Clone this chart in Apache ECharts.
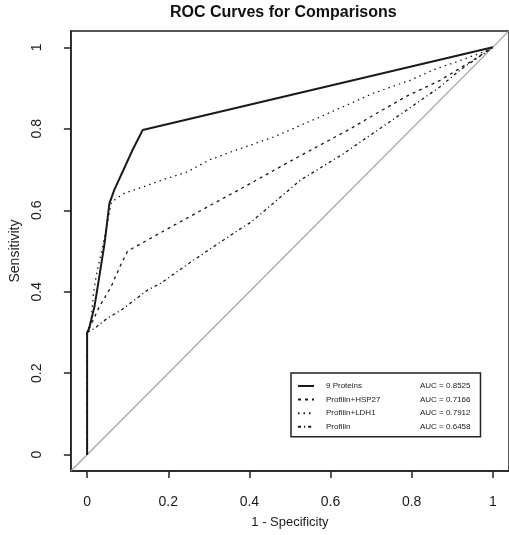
<!DOCTYPE html>
<html>
<head>
<meta charset="utf-8">
<script src="https://cdn.jsdelivr.net/npm/echarts@6/dist/echarts.min.js"></script>
<style>
  html, body { margin: 0; padding: 0; background: #fff; }
  #chart { width: 509px; height: 535px; }
</style>
</head>
<body>
<div id="chart"></div>
<script>
// ROC curves: [1 - specificity, sensitivity] pairs
const nineProteins = [
  [0, 0], [0, 0.30], [0.005, 0.31], [0.018, 0.363], [0.03, 0.437], [0.043, 0.519],
  [0.055, 0.617], [0.067, 0.65], [0.112, 0.748], [0.137, 0.797], [1, 1]
];
const profilinHsp27 = [
  [0, 0], [0, 0.30], [0.01, 0.32], [0.03, 0.363], [0.059, 0.412], [0.08, 0.46],
  [0.1, 0.50], [0.149, 0.527], [0.223, 0.568], [0.30, 0.61], [0.403, 0.666],
  [0.50, 0.72], [0.649, 0.80], [0.705, 0.833], [0.788, 0.88], [0.87, 0.919],
  [0.951, 0.968], [1, 1]
];
const profilinLdh1 = [
  [0, 0], [0, 0.30], [0.01, 0.33], [0.015, 0.39], [0.022, 0.437], [0.04, 0.52],
  [0.06, 0.62], [0.092, 0.642], [0.14, 0.658], [0.19, 0.676], [0.247, 0.694],
  [0.30, 0.723], [0.354, 0.743], [0.46, 0.78], [0.567, 0.826], [0.649, 0.862],
  [0.705, 0.887], [0.796, 0.919], [0.862, 0.948], [0.91, 0.964], [0.968, 0.985], [1, 1]
];
const profilin = [
  [0, 0], [0, 0.30], [0.018, 0.31], [0.05, 0.335], [0.084, 0.355], [0.149, 0.404],
  [0.182, 0.421], [0.223, 0.45], [0.263, 0.478], [0.386, 0.56], [0.403, 0.57],
  [0.526, 0.674], [0.632, 0.739], [0.705, 0.789], [0.788, 0.846], [0.87, 0.903],
  [0.919, 0.944], [1, 1]
];
// chance line y = x across the plotting region
const chanceLine = [[-0.04, -0.04], [1.04, 1.04]];

const seriesNames = ['9 Proteins', 'Profilin+HSP27', 'Profilin+LDH1', 'Profilin'];
const aucValues = ['0.8525', '0.7166', '0.7912', '0.6458'];
const tickValues = [0, 0.2, 0.4, 0.6, 0.8, 1];

const font = "'Liberation Sans', Arial, sans-serif";
const ink = '#1a1a1a';

const aucByName = {};
seriesNames.forEach((n, i) => { aucByName[n] = aucValues[i]; });

function tickText(v) {
  if (Math.abs(v - 1) < 1e-9) return '1';
  if (Math.abs(v) < 1e-9) return '0';
  return String(+v.toFixed(1));
}

function rocSeries(name, data, width, dash) {
  return {
    name: name,
    type: 'line',
    data: data,
    showSymbol: false,
    symbol: 'none',
    silent: true,
    animation: false,
    itemStyle: { color: ink },
    lineStyle: { color: ink, width: width, type: dash, cap: 'butt' }
  };
}

const axisCommon = {
  type: 'value', min: -0.04, max: 1.04,
  nameLocation: 'middle',
  splitLine: { show: false },
  axisLine: { show: true, onZero: false, lineStyle: { color: '#222', width: 1.5 } },
  axisTick: { show: true, length: 7, customValues: tickValues, lineStyle: { color: '#222', width: 1.5 } }
};

const chart = echarts.init(document.getElementById('chart'), null, { renderer: 'canvas' });

chart.setOption({
  backgroundColor: '#fff',
  animation: false,
  title: {
    text: 'ROC Curves for Comparisons',
    left: 165,
    top: 0,
    textStyle: { fontFamily: font, fontWeight: 'bold', fontSize: 16, color: '#111' }
  },
  grid: {
    left: 70, right: 0, top: 31, bottom: 64,
    show: true, borderColor: '#222', borderWidth: 1.5, backgroundColor: 'transparent'
  },
  xAxis: Object.assign({}, axisCommon, {
    name: '1 - Specificity', nameGap: 45,
    nameTextStyle: { fontFamily: font, fontSize: 13, color: ink },
    axisLabel: {
      customValues: tickValues, margin: 24,
      fontFamily: font, fontSize: 14, color: ink, formatter: tickText
    }
  }),
  yAxis: Object.assign({}, axisCommon, {
    name: 'Sensitivity', nameGap: 43,
    nameTextStyle: { fontFamily: font, fontSize: 14, color: ink },
    axisLabel: {
      customValues: tickValues, margin: 27, rotate: 90,
      fontFamily: font, fontSize: 14, color: ink, formatter: tickText
    }
  }),
  legend: {
    data: seriesNames,
    orient: 'vertical',
    left: 291, top: 373,
    padding: [9, 10, 6, 6],
    itemWidth: 16, itemHeight: 8, itemGap: 5.6,
    borderColor: '#222', borderWidth: 1.5, borderRadius: 0,
    backgroundColor: '#fff',
    selectedMode: false,
    itemStyle: { opacity: 0 },
    textStyle: {
      fontFamily: font, fontSize: 8, color: ink,
      rich: {
        n: { width: 94, padding: [0, 0, 0, 7], fontFamily: font, fontSize: 8, color: ink },
        a: { fontFamily: font, fontSize: 8, color: ink }
      }
    },
    formatter: name => '{n|' + name + '}{a|AUC = ' + aucByName[name] + '}'
  },
  series: [
    {
      name: 'chance',
      type: 'line',
      data: chanceLine,
      showSymbol: false,
      symbol: 'none',
      silent: true,
      lineStyle: { color: '#a0a0a0', width: 1.1 },
      z: 1
    },
    rocSeries(seriesNames[0], nineProteins, 2, 'solid'),
    rocSeries(seriesNames[1], profilinHsp27, 1.3, [3, 4]),
    rocSeries(seriesNames[2], profilinLdh1, 1.3, [1.5, 4]),
    rocSeries(seriesNames[3], profilin, 1.3, [3, 3, 1.2, 3])
  ]
});
</script>
</body>
</html>
